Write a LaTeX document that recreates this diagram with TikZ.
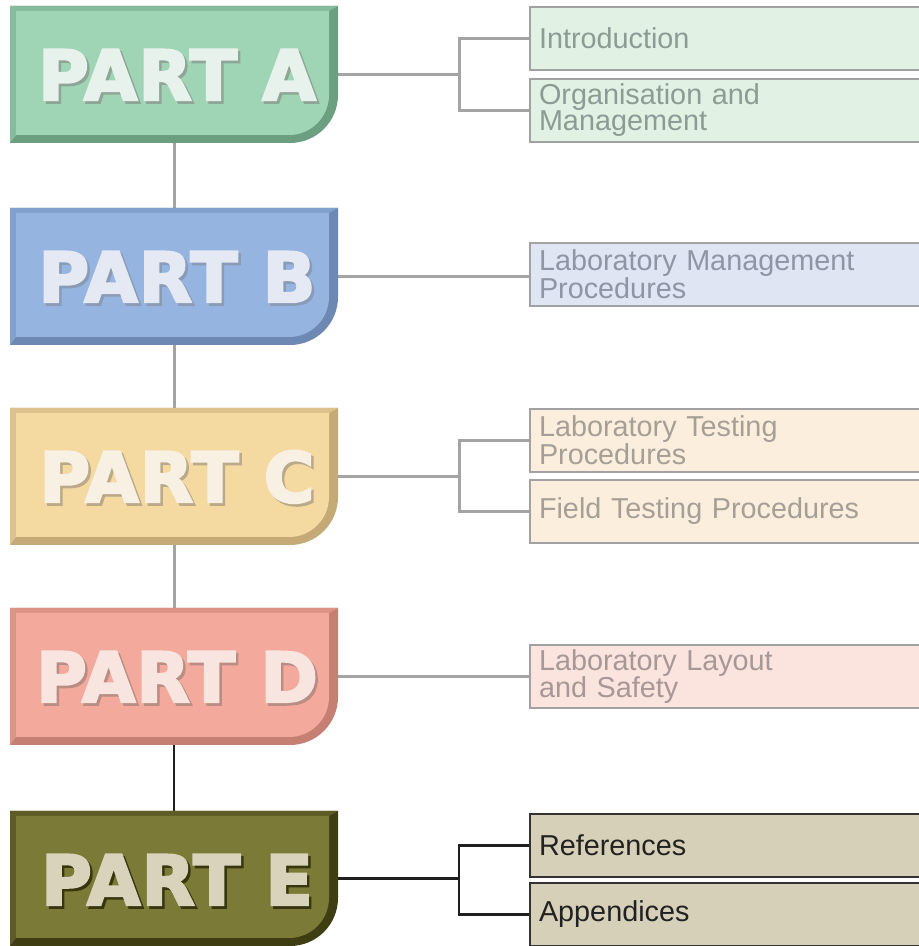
\documentclass[tikz,border=0pt]{standalone}
\usepackage{fontspec}
\setmainfont{Liberation Sans}
\newfontfamily\badgefont{DejaVu Sans}[LetterSpace=2]
\usetikzlibrary{fit,backgrounds}

% part colours: face, rim, bevel, lettering, letter shadow
\definecolor{paFace}{HTML}{9FD4B5}\definecolor{paRim}{HTML}{6C9F80}\definecolor{paBevel}{HTML}{86BC9C}
\definecolor{paText}{HTML}{E8F2EC}\definecolor{paShadow}{HTML}{8FA597}
\definecolor{pbFace}{HTML}{95B4E0}\definecolor{pbRim}{HTML}{6D89B3}\definecolor{pbBevel}{HTML}{81A0CC}
\definecolor{pbText}{HTML}{E4E9F3}\definecolor{pbShadow}{HTML}{8A9BB5}
\definecolor{pcFace}{HTML}{F4D9A1}\definecolor{pcRim}{HTML}{C4AA76}\definecolor{pcBevel}{HTML}{DCC28C}
\definecolor{pcText}{HTML}{F8F1E3}\definecolor{pcShadow}{HTML}{BBAA8A}
\definecolor{pdFace}{HTML}{F3A99B}\definecolor{pdRim}{HTML}{C58073}\definecolor{pdBevel}{HTML}{DC9487}
\definecolor{pdText}{HTML}{F8E5DF}\definecolor{pdShadow}{HTML}{B98C84}
\definecolor{peFace}{HTML}{7C7A37}\definecolor{peRim}{HTML}{3F3E12}\definecolor{peBevel}{HTML}{5E5C24}
\definecolor{peText}{HTML}{D8D3BA}\definecolor{peShadow}{HTML}{37360F}

% topic box fills and text colours
\definecolor{aBox}{HTML}{E1F2E5}\definecolor{aInk}{HTML}{8C9B93}
\definecolor{bBox}{HTML}{DFE5F3}\definecolor{bInk}{HTML}{8E95A5}
\definecolor{cBox}{HTML}{FBEEDD}\definecolor{cInk}{HTML}{A69F96}
\definecolor{dBox}{HTML}{FBE3DE}\definecolor{dInk}{HTML}{A79896}
\definecolor{eBox}{HTML}{D6D0B8}\definecolor{eInk}{HTML}{222222}
\definecolor{linegray}{HTML}{A4A4A4}
\definecolor{boxgray}{HTML}{A2A2A2}

% heavy lettering: fill and stroke the glyph outlines
\newcommand\heavyword[1]{%
  \special{pdf:literal direct 2 Tr 2.4 w}#1\special{pdf:literal direct 0 Tr}}

% bevelled part badge: #1 name, #2 top, #3 bottom, #4 letter
\newcommand\partbadge[4]{%
  \fill[#1Rim] (10,#3) -- (10,#2) -- (338,#2) -- (338,#3+48)
    arc[start angle=0,end angle=-90,radius=48] -- cycle;
  \fill[#1Bevel] (10,#3) -- (10,#2) -- (338,#2) -- (329,#2-5) -- (16,#2-5) -- (16,#3+8) -- cycle;
  \fill[#1Face] (16,#3+8) -- (16,#2-5) -- (329,#2-5) -- (329,#3+48)
    arc[start angle=0,end angle=-90,radius=40] -- cycle;
  \node[badgetext, text=#1Shadow] at (179.5,#2-96.6) {\heavyword{PART #4}};
  \node[badgetext, text=#1Text] at (177,#2-94) {\heavyword{PART #4}};
  \node[inner sep=0pt, fit={(10,#3) (338,#2)}] (#1) {};
}

\tikzset{
  badgetext/.style={anchor=base, inner sep=0pt,
    font=\badgefont\bfseries\fontsize{69}{70}\selectfont},
  topic/.style={draw=boxgray, line width=2pt, anchor=west, inner xsep=9pt, inner ysep=0pt,
    text width=382pt, minimum height=63pt, align=left,
    font=\fontsize{28.8}{26}\selectfont},
  conn/.style={draw=linegray, line width=3pt},
  connE/.style={draw=black!88, line width=2.5pt},
}

\begin{document}
\begin{tikzpicture}[x=1pt,y=1pt]
  \useasboundingbox (0,0) rectangle (919,946);

  % part badges
  \partbadge{pa}{940}{803}{A}
  \partbadge{pb}{738}{601}{B}
  \partbadge{pc}{538}{401}{C}
  \partbadge{pd}{338}{201}{D}
  \partbadge{pe}{135}{0}{E}

  % topic boxes
  \node[topic, fill=aBox, text=aInk] (a1) at (529,907.5) {Introduction};
  \node[topic, fill=aBox, text=aInk] (a2) at (529,835.5) {Organisation and\\Management};
  \node[topic, fill=bBox, text=bInk] (b1) at (529,671.5) {Laboratory Management\\Procedures};
  \node[topic, fill=cBox, text=cInk] (c1) at (529,505.5) {Laboratory Testing\\Procedures};
  \node[topic, fill=cBox, text=cInk] (c2) at (529,434.5) {Field Testing Procedures};
  \node[topic, fill=dBox, text=dInk] (d1) at (529,269.5) {Laboratory Layout\\and Safety};
  \node[topic, fill=eBox, text=eInk, draw=black!80] (e1) at (529,100.5) {References};
  \node[topic, fill=eBox, text=eInk, draw=black!80] (e2) at (529,31.5) {Appendices};

  \begin{scope}[on background layer]
    % spine between the parts
    \draw[conn] (pa.south) -- (pb.north);
    \draw[conn] (pb.south) -- (pc.north);
    \draw[conn] (pc.south) -- (pd.north);
    \draw[connE] (pd.south) -- (pe.north);

    % branches to the topics
    \draw[conn] (pa.east) -- ++(121,0) coordinate (ja);
    \draw[conn] (a1.west) -| (ja) |- (a2.west);
    \draw[conn] (pb.east) -- (pb.east -| b1.west);
    \draw[conn] (pc.east) -- ++(121,0) coordinate (jc);
    \draw[conn] (c1.west) -| (jc) |- (c2.west);
    \draw[conn] (pd.east) -- (pd.east -| d1.west);
    \draw[connE] (pe.east) -- ++(121,0) coordinate (je);
    \draw[connE] (e1.west) -| (je) |- (e2.west);
  \end{scope}
\end{tikzpicture}
\end{document}
